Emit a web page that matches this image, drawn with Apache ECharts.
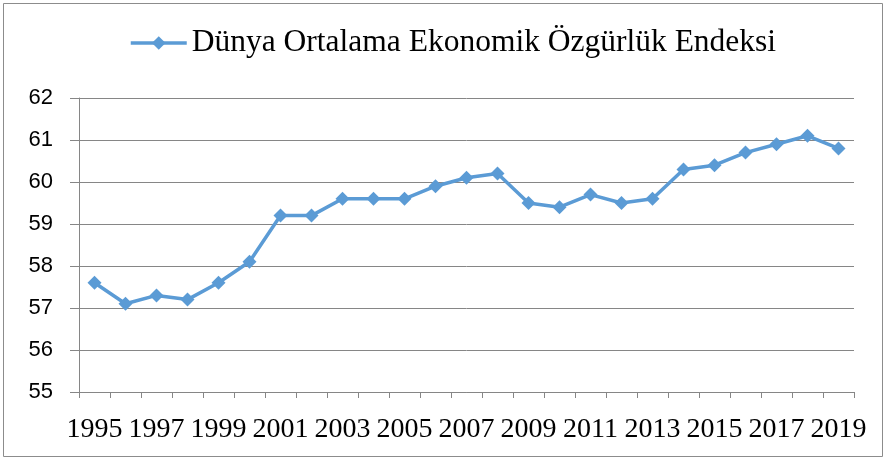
<!DOCTYPE html>
<html><head><meta charset="utf-8">
<script src="https://cdn.jsdelivr.net/npm/echarts@6/dist/echarts.min.js"></script>
<style>html,body{margin:0;padding:0;background:#fff;}#c{width:886px;height:461px;}</style>
</head><body><div id="c"></div>
<script>
const years = ['1995','1996','1997','1998','1999','2000','2001','2002','2003','2004','2005','2006','2007','2008','2009','2010','2011','2012','2013','2014','2015','2016','2017','2018','2019'];
const values = [57.6,57.1,57.3,57.2,57.6,58.1,59.2,59.2,59.6,59.6,59.6,59.9,60.1,60.2,59.5,59.4,59.7,59.5,59.6,60.3,60.4,60.7,60.9,61.1,60.8];
const seriesName = 'Dünya Ortalama Ekonomik Özgürlük Endeksi';
const yMin = 55, yMax = 62, yStep = 1;

const chart = echarts.init(document.getElementById('c'));
chart.setOption({
  animation: false,
  backgroundColor: '#fff',
  graphic: [{type:'rect', shape:{x:3.5,y:3.5,width:879,height:453}, style:{fill:'none', stroke:'#8c8c8c', lineWidth:1}, silent:true}],
  legend: {
    top: 22, left: 124,
    itemWidth: 56, itemHeight: 17, itemGap: 3,
    lineStyle: {width: 3.5, color:'#5B9BD5'},
    textStyle: {fontFamily:'Liberation Serif', fontSize: 31.5, color:'#000'},
    data: [seriesName]
  },
  grid: {left: 79, right: 32, top: 98, bottom: 69},
  xAxis: {
    type:'category', data: years, boundaryGap: true,
    axisLine: {lineStyle:{color:'#868686', width:1}},
    axisTick: {show:true, interval:0, length:6, lineStyle:{color:'#868686'}},
    axisLabel: {interval:1, color:'#000', fontFamily:'Liberation Serif', fontSize:28, margin:24}
  },
  yAxis: {
    type:'value', min:yMin, max:yMax, interval:yStep,
    axisLine: {show:true, lineStyle:{color:'#868686', width:1}},
    axisTick: {show:true, length:9, inside:false, lineStyle:{color:'#868686'}},
    axisLabel: {color:'#000', fontFamily:'Liberation Sans', fontSize:22, margin:26},
    splitLine: {lineStyle:{color:'#868686', width:1}}
  },
  series: [{
    name: seriesName, type:'line', data: values,
    symbol:'diamond', symbolSize: 14,
    lineStyle:{color:'#5B9BD5', width:3.5},
    itemStyle:{color:'#5B9BD5'}
  }]
});
</script></body></html>
